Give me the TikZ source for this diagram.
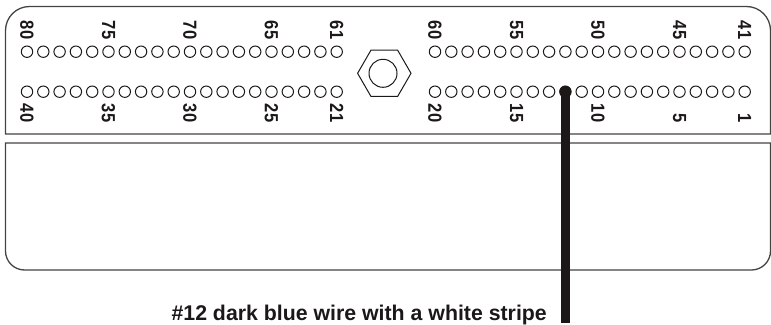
\documentclass[tikz,border=0pt]{standalone}
\usepackage{fontspec}
\setmainfont{Liberation Sans}
\usepackage{tikz}
\usetikzlibrary{positioning, shapes.geometric}
\definecolor{boxgray}{RGB}{70,68,66}
\definecolor{wirecol}{RGB}{28,24,24}

\begin{document}
\begin{tikzpicture}[x=1pt, y=-1pt,
		hole/.style={circle,draw=wirecol,line width=1pt,inner sep=0pt,minimum size=11.4pt},
		pinlabel/.style={font=\bfseries\fontsize{19}{20}\selectfont,rotate=-90,xscale=0.87,inner sep=0pt,text=wirecol},
		housing/.style={draw=boxgray,line width=1.3pt}]
	\useasboundingbox (0,0) rectangle (771,324);
	% Housing
	\draw[housing] (5.5,134) [rounded corners=24pt] -- (5.5,6.5) -- (770.5,6.5) [sharp corners] -- (770.5,134) -- cycle;
	\draw[housing] (5.5,143) -- (770.5,143) [rounded corners=19pt] -- (770.5,270) -- (5.5,270) [sharp corners] -- cycle;
	% Holes
	\foreach \i in {0,...,19}{
		\pgfmathtruncatemacro{\ltop}{80-\i}
		\pgfmathtruncatemacro{\lbot}{40-\i}
		\pgfmathtruncatemacro{\rtop}{60-\i}
		\pgfmathtruncatemacro{\rbot}{20-\i}
		\node (h\ltop) [hole] at (27+16.3*\i,51.7) {};
		\node (h\lbot) [hole] at (27+16.3*\i,91.7) {};
		\node (h\rtop) [hole] at (435+16.3*\i,51.7) {};
		\node (h\rbot) [hole] at (435+16.3*\i,91.7) {};
	}
	% Pin numbers
	\foreach \pin in {80,75,70,65,61,60,55,50,45,41}
	{\node (l\pin) [pinlabel,anchor=east] at ([yshift=6pt]h\pin.north) {\pin};}
	\foreach \pin in {40,35,30,25,21,20,15,10,5,1}
	{\node (l\pin) [pinlabel,anchor=east] at ([yshift=-24.6pt]h\pin.south) {\pin};}
	% Stud
	\node (nut) [regular polygon,regular polygon sides=6,draw=wirecol,line width=1pt,inner sep=0pt,minimum size=53.4pt] at (384.3,73.3) {};
	\node (stud) [circle,draw=wirecol,line width=1pt,inner sep=0pt,minimum size=28pt] at (383,73.3) {};
	% Wire
	\coordinate (wireend) at (h12 |- 0,323);
	\fill[wirecol] (h12) circle[radius=5.9];
	\draw[wirecol,line width=9pt] (h12.center) -- (wireend);
	\node (wirelabel) [font=\bfseries\fontsize{21.3}{23}\selectfont,text=wirecol,inner sep=0pt,anchor=base east] at (547,320) {\#12 dark blue wire with a white stripe};
\end{tikzpicture}
\end{document}
